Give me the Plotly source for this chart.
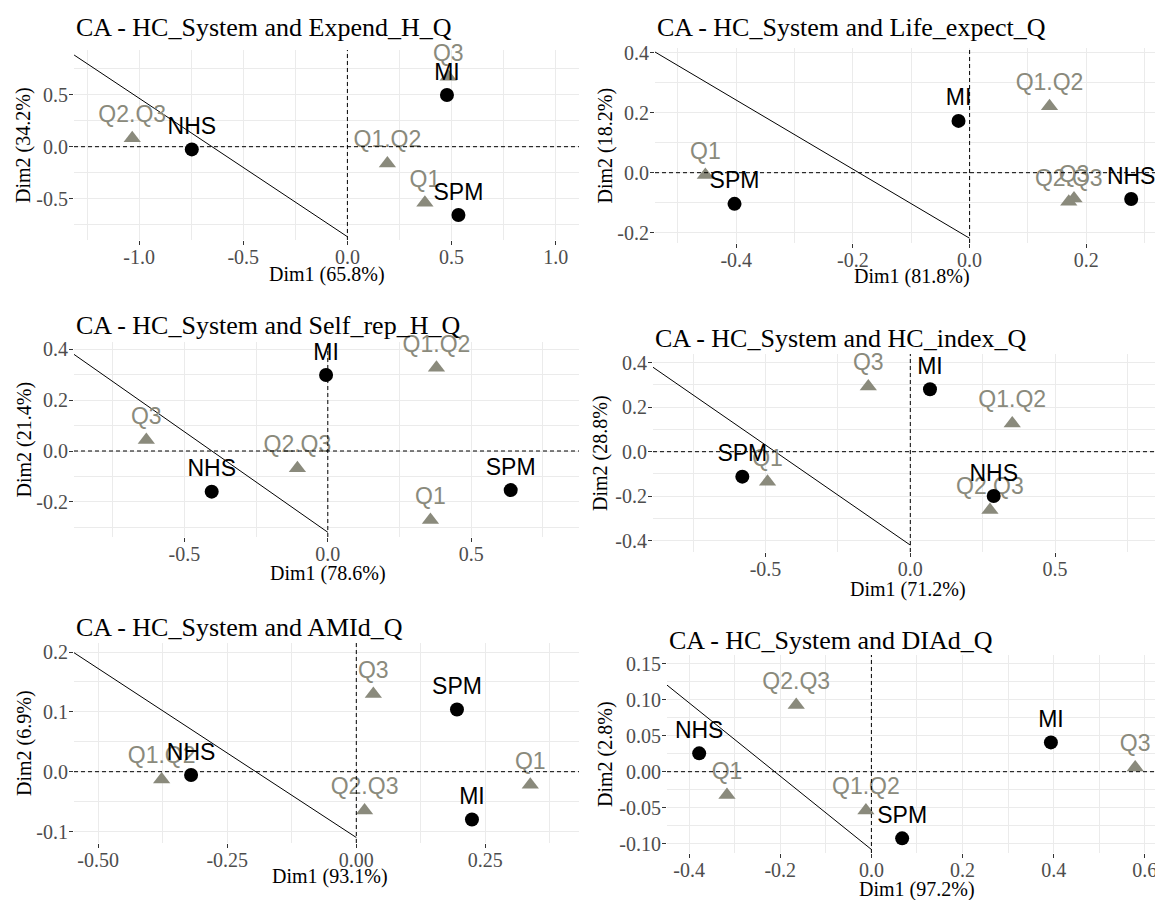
import plotly.graph_objects as go

W, H = 1155, 900

# ---------------- data ----------------
row_labels = ["NHS", "MI", "SPM"]
col_labels = ["Q1", "Q1.Q2", "Q2.Q3", "Q3"]

titles = [
    "CA - HC_System and Expend_H_Q",
    "CA - HC_System and Life_expect_Q",
    "CA - HC_System and Self_rep_H_Q",
    "CA - HC_System and HC_index_Q",
    "CA - HC_System and AMId_Q",
    "CA - HC_System and DIAd_Q",
]
dim1_labels = ["Dim1 (65.8%)", "Dim1 (81.8%)", "Dim1 (78.6%)",
               "Dim1 (71.2%)", "Dim1 (93.1%)", "Dim1 (97.2%)"]
dim2_labels = ["Dim2 (34.2%)", "Dim2 (18.2%)", "Dim2 (21.4%)",
               "Dim2 (28.8%)", "Dim2 (6.9%)", "Dim2 (2.8%)"]

# Expend_H_Q
p1_row_x = [-0.747, 0.478, 0.533]
p1_row_y = [-0.026, 0.495, -0.655]
p1_col_x = [0.372, 0.192, -1.033, 0.484]
p1_col_y = [-0.537, -0.160, 0.080, 0.670]
p1_seg_x = [-1.312, 0.0]
p1_seg_y = [0.879, -0.863]

# Life_expect_Q
p2_row_x = [0.277, -0.019, -0.403]
p2_row_y = [-0.088, 0.173, -0.104]
p2_col_x = [-0.453, 0.137, 0.170, 0.179]
p2_col_y = [-0.008, 0.222, -0.097, -0.086]
p2_seg_x = [-0.540, 0.0]
p2_seg_y = [0.404, -0.219]

# Self_rep_H_Q
p3_row_x = [-0.405, -0.006, 0.638]
p3_row_y = [-0.160, 0.299, -0.154]
p3_col_x = [0.358, 0.379, -0.106, -0.633]
p3_col_y = [-0.272, 0.328, -0.068, 0.043]
p3_seg_x = [-0.886, 0.0]
p3_seg_y = [0.381, -0.320]

# HC_index_Q
p4_row_x = [0.288, 0.068, -0.580]
p4_row_y = [-0.199, 0.280, -0.112]
p4_col_x = [-0.493, 0.352, 0.275, -0.145]
p4_col_y = [-0.135, 0.127, -0.262, 0.292]
p4_seg_x = [-0.892, 0.0]
p4_seg_y = [0.382, -0.419]

# AMId_Q
p5_row_x = [-0.320, 0.224, 0.195]
p5_row_y = [-0.0056, -0.080, 0.104]
p5_col_x = [0.337, -0.377, 0.016, 0.033]
p5_col_y = [-0.022, -0.013, -0.065, 0.130]
p5_seg_x = [-0.547, 0.0]
p5_seg_y = [0.199, -0.110]

# DIAd_Q
p6_row_x = [-0.378, 0.394, 0.0675]
p6_row_y = [0.0255, 0.0407, -0.0926]
p6_col_x = [-0.317, -0.012, -0.165, 0.579]
p6_col_y = [-0.0324, -0.054, 0.0926, 0.006]
p6_seg_x = [-0.450, 0.0]
p6_seg_y = [0.121, -0.108]

# tick values / labels
p1_xt = [-1.0, -0.5, 0.0, 0.5, 1.0]
p1_xl = ["-1.0", "-0.5", "0.0", "0.5", "1.0"]
p1_yt = [-0.5, 0.0, 0.5]
p1_yl = ["-0.5", "0.0", "0.5"]
p2_xt = [-0.4, -0.2, 0.0, 0.2]
p2_xl = ["-0.4", "-0.2", "0.0", "0.2"]
p2_yt = [-0.2, 0.0, 0.2, 0.4]
p2_yl = ["-0.2", "0.0", "0.2", "0.4"]
p3_xt = [-0.5, 0.0, 0.5]
p3_xl = ["-0.5", "0.0", "0.5"]
p3_yt = [-0.2, 0.0, 0.2, 0.4]
p3_yl = ["-0.2", "0.0", "0.2", "0.4"]
p4_xt = [-0.5, 0.0, 0.5]
p4_xl = ["-0.5", "0.0", "0.5"]
p4_yt = [-0.4, -0.2, 0.0, 0.2, 0.4]
p4_yl = ["-0.4", "-0.2", "0.0", "0.2", "0.4"]
p5_xt = [-0.5, -0.25, 0.0, 0.25]
p5_xl = ["-0.50", "-0.25", "0.00", "0.25"]
p5_yt = [-0.1, 0.0, 0.1, 0.2]
p5_yl = ["-0.1", "0.0", "0.1", "0.2"]
p6_xt = [-0.4, -0.2, 0.0, 0.2, 0.4, 0.6]
p6_xl = ["-0.4", "-0.2", "0.0", "0.2", "0.4", "0.6"]
p6_yt = [-0.10, -0.05, 0.0, 0.05, 0.10, 0.15]
p6_yl = ["-0.10", "-0.05", "0.00", "0.05", "0.10", "0.15"]

panels_data = [
    (p1_row_x, p1_row_y, p1_col_x, p1_col_y, p1_seg_x, p1_seg_y, p1_xt, p1_xl, p1_yt, p1_yl),
    (p2_row_x, p2_row_y, p2_col_x, p2_col_y, p2_seg_x, p2_seg_y, p2_xt, p2_xl, p2_yt, p2_yl),
    (p3_row_x, p3_row_y, p3_col_x, p3_col_y, p3_seg_x, p3_seg_y, p3_xt, p3_xl, p3_yt, p3_yl),
    (p4_row_x, p4_row_y, p4_col_x, p4_col_y, p4_seg_x, p4_seg_y, p4_xt, p4_xl, p4_yt, p4_yl),
    (p5_row_x, p5_row_y, p5_col_x, p5_col_y, p5_seg_x, p5_seg_y, p5_xt, p5_xl, p5_yt, p5_yl),
    (p6_row_x, p6_row_y, p6_col_x, p6_col_y, p6_seg_x, p6_seg_y, p6_xt, p6_xl, p6_yt, p6_yl),
]

# ---------------- layout (pixels) ----------------
# box: x0, x1, ytop, ybottom ; calibration: x zero px, px per unit, y zero px, px per unit
panel_geom = [
    dict(box=(74, 579, 50, 240), cal=(347.4, 208.3, 146.7, 104.3), minor=(0.25, 0.25),
         ty=28, xt=(327, 274), yt=24),
    dict(box=(655, 1155, 48, 243), cal=(969.6, 583.3, 172.7, 299.3), minor=(0.1, 0.1),
         ty=28, xt=(912, 276), yt=605),
    dict(box=(74, 579, 342, 537), cal=(327.8, 286.7, 451.0, 254.0), minor=(0.25, 0.1),
         ty=325, xt=(328, 573), yt=24),
    dict(box=(653, 1155, 354, 552), cal=(910.3, 289.6, 451.7, 222.9), minor=(0.25, 0.1),
         ty=338, xt=(908, 589), yt=601),
    dict(box=(74, 579, 643, 843), cal=(356.3, 516.3, 771.7, 598.3), minor=(0.125, 0.05),
         ty=627, xt=(330, 876), yt=24),
    dict(box=(667, 1155, 655, 853), cal=(871.4, 455.6, 771.7, 720.0), minor=(0.1, 0.025),
         ty=640, xt=(917, 889), yt=605),
]

ROW_COL = "black"
COL_COL = "#8A8A7C"
SERIF = "Liberation Serif"
SANS = "Liberation Sans"
GRID = "#EBEBEB"

fig = go.Figure()
layout = dict(
    width=W, height=H, margin=dict(l=0, r=0, t=0, b=0, autoexpand=False),
    paper_bgcolor="white", plot_bgcolor="white", showlegend=False,
)
shapes = []
annotations = []

for i, (pd_, pg) in enumerate(zip(panels_data, panel_geom), start=1):
    rx, ry, cx, cy, sx, sy, xt, xl, yt, yl = pd_
    x0, x1, ytop, ybot = pg["box"]
    xz, xppu, yz, yppu = pg["cal"]
    xr = [(x0 - xz) / xppu, (x1 - xz) / xppu]
    yr = [(yz - ybot) / yppu, (yz - ytop) / yppu]
    xa = "x" if i == 1 else f"x{i}"
    ya = "y" if i == 1 else f"y{i}"
    xkey = "xaxis" if i == 1 else f"xaxis{i}"
    ykey = "yaxis" if i == 1 else f"yaxis{i}"
    mx, my = pg["minor"]
    common = dict(
        showgrid=True, gridcolor=GRID, gridwidth=1.1, zeroline=False, showline=False,
        ticks="outside", ticklen=4, tickwidth=1, tickcolor="#333333",
        tickfont=dict(family=SERIF, size=20, color="#4D4D4D"),
        tickmode="array", fixedrange=True, automargin=False, ticklabeloverflow="allow",
    )
    layout[xkey] = dict(
        common, domain=[x0 / W, x1 / W], range=xr, anchor=ya,
        tickvals=xt, ticktext=xl, ticklabelstandoff=-5,
        minor=dict(tickmode="linear", tick0=0, dtick=mx, showgrid=True,
                   gridcolor=GRID, gridwidth=0.6, ticks=""),
    )
    layout[ykey] = dict(
        common, domain=[1 - ybot / H, 1 - ytop / H], range=yr, anchor=xa,
        tickvals=yt, ticktext=yl, ticklabelstandoff=-3,
        minor=dict(tickmode="linear", tick0=0, dtick=my, showgrid=True,
                   gridcolor=GRID, gridwidth=0.6, ticks=""),
    )

    # diagonal segment
    fig.add_trace(go.Scatter(x=sx, y=sy, xaxis=xa, yaxis=ya, mode="lines",
                             line=dict(color="black", width=1), hoverinfo="skip"))
    # column categories (triangles)
    fig.add_trace(go.Scatter(
        x=cx, y=cy, xaxis=xa, yaxis=ya, mode="markers+text", text=col_labels,
        textposition="top center", cliponaxis=False,
        textfont=dict(family=SANS, size=23, color=COL_COL),
        marker=dict(symbol="triangle-up", size=15, color=COL_COL),
    ))
    # row categories (circles)
    fig.add_trace(go.Scatter(
        x=rx, y=ry, xaxis=xa, yaxis=ya, mode="markers+text", text=row_labels,
        textposition="top center", cliponaxis=False,
        textfont=dict(family=SANS, size=23, color=ROW_COL),
        marker=dict(symbol="circle", size=14, color=ROW_COL),
    ))

    # dashed zero lines
    shapes.append(dict(type="line", xref=xa, yref=f"{ya} domain", x0=0, x1=0, y0=0, y1=1,
                       line=dict(color="black", width=1, dash="4px,3px"), layer="above"))
    shapes.append(dict(type="line", xref=f"{xa} domain", yref=ya, x0=0, x1=1, y0=0, y1=0,
                       line=dict(color="black", width=1, dash="4px,3px"), layer="above"))

    # titles
    annotations.append(dict(text=titles[i - 1], xref="paper", yref="paper",
                            x=x0 / W, y=1 - pg["ty"] / H, xanchor="left", yanchor="middle",
                            showarrow=False, font=dict(family=SERIF, size=26, color="black")))
    tx, ty = pg["xt"]
    annotations.append(dict(text=dim1_labels[i - 1], xref="paper", yref="paper",
                            x=tx / W, y=1 - ty / H, xanchor="center", yanchor="middle",
                            showarrow=False, font=dict(family=SERIF, size=20, color="black")))
    annotations.append(dict(text=dim2_labels[i - 1], xref="paper", yref="paper",
                            x=pg["yt"] / W, y=1 - ((ytop + ybot) / 2) / H,
                            xanchor="center", yanchor="middle", textangle=-90,
                            showarrow=False, font=dict(family=SERIF, size=20, color="black")))

layout["shapes"] = shapes
layout["annotations"] = annotations
fig.update_layout(**layout)

fig.write_html("out.html", config={"displayModeBar": False},
               post_script="document.body.style.margin='0px';document.body.style.padding='0px';")
